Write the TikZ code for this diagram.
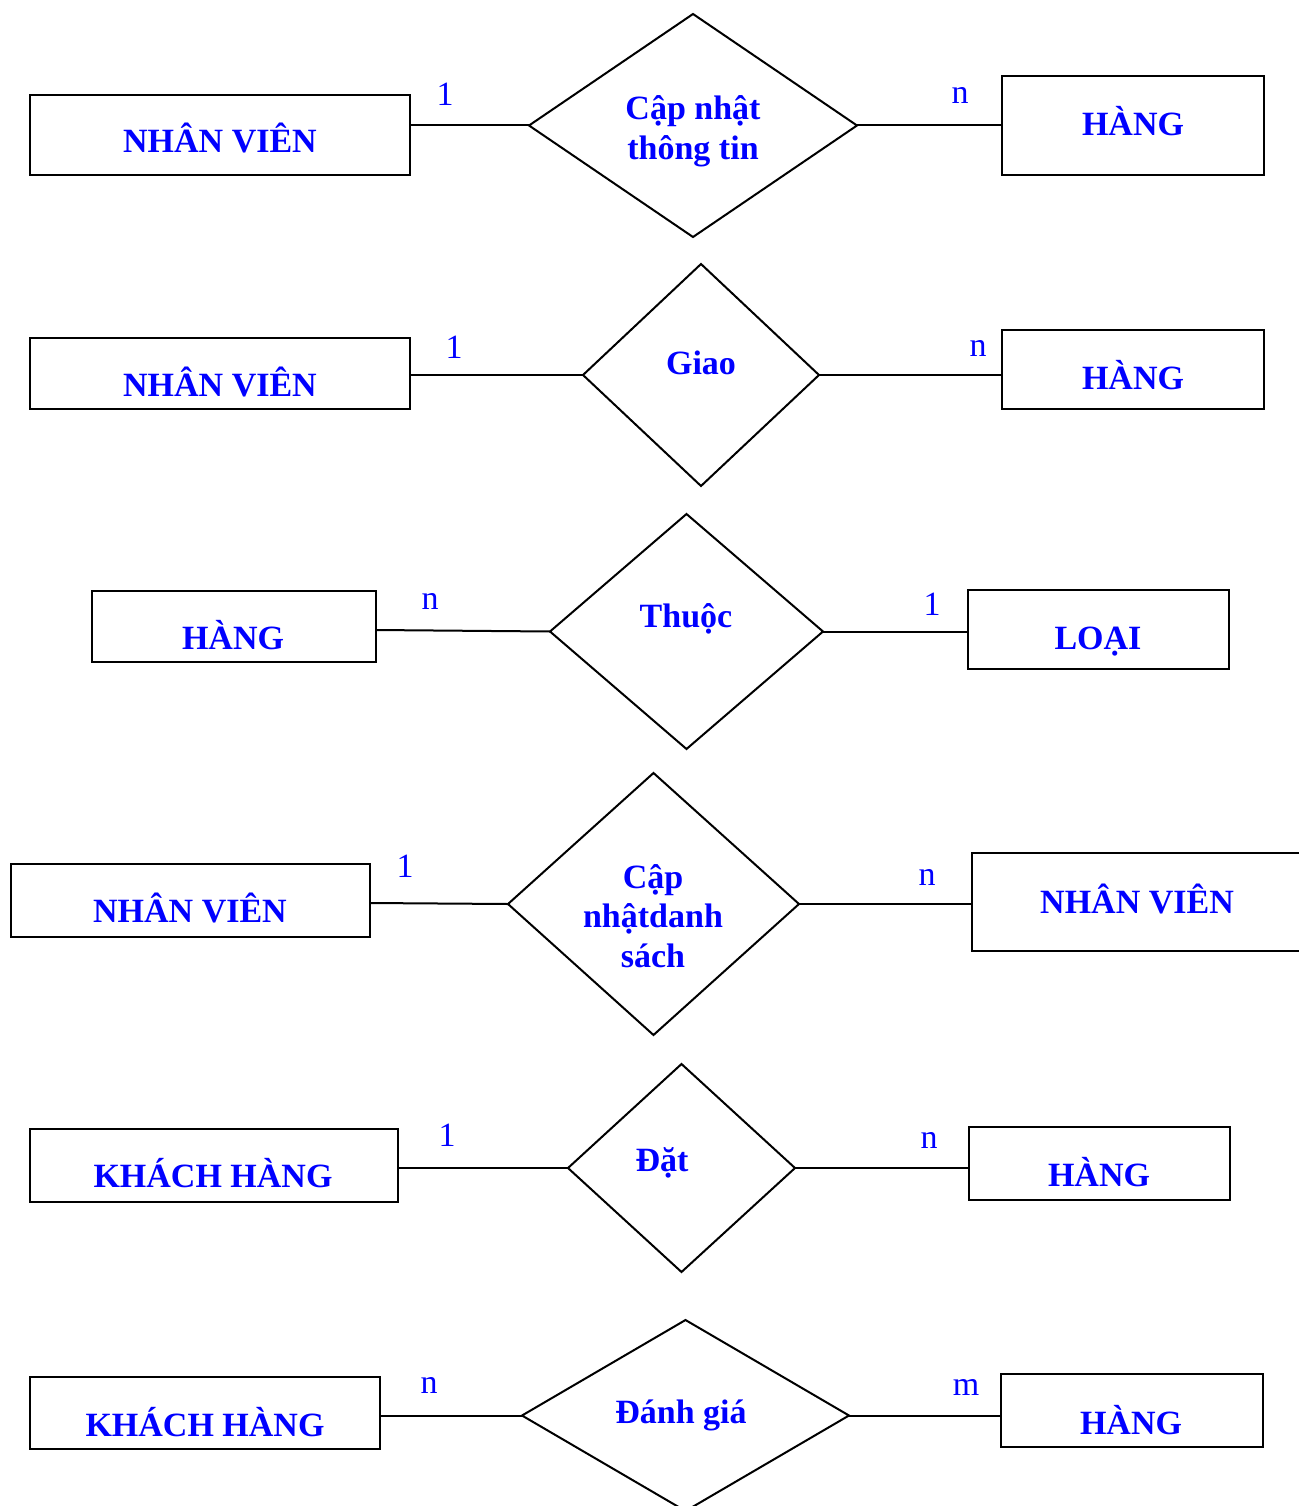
\documentclass[tikz,border=0pt]{standalone}
\usepackage{fontspec}
\setmainfont{Liberation Serif}
\usetikzlibrary{shapes.geometric}
\definecolor{erblue}{RGB}{0,0,255}
\begin{document}
\begin{tikzpicture}[x=1pt,y=-1pt,
  entity/.style={draw=black,line width=2pt,rectangle,inner sep=0pt,outer sep=0pt},
  rel/.style={draw=black,line width=2pt,diamond,aspect=1,inner sep=0pt,outer sep=0pt},
  lbl/.style={text=erblue,font=\fontsize{34}{38}\selectfont\bfseries,anchor=base,inner sep=0pt},
  card/.style={text=erblue,font=\fontsize{34}{38}\selectfont,anchor=base,inner sep=0pt},
  conn/.style={draw=black,line width=2pt}]
\useasboundingbox (0,0) rectangle (1298,1506);

% ---------- Row 1 ----------
\node[entity,minimum width=380pt,minimum height=80pt] (e1a) at (220,135) {};
\node[entity,minimum width=262pt,minimum height=99pt] (e1b) at (1133,125.5) {};
\node[rel,minimum width=328pt,minimum height=223pt] (r1) at (693,125.5) {};
\node[lbl] (t1a) at (220,153) {NHÂN VIÊN};
\node[lbl] (t1b) at (1133,136) {HÀNG};
\node[lbl] (t1r1) at (693,120) {Cập nhật};
\node[lbl] (t1r2) at (693,160) {thông tin};
\draw[conn] (e1a.east |- r1.west) -- (r1.west);
\draw[conn] (r1.east) -- (r1.east -| e1b.west);
\node[card] (c1a) at (445,106) {1};
\node[card] (c1b) at (960,104) {n};

% ---------- Row 2 ----------
\node[entity,minimum width=380pt,minimum height=71pt] (e2a) at (220,373.5) {};
\node[entity,minimum width=262pt,minimum height=79pt] (e2b) at (1133,369.5) {};
\node[rel,minimum width=236pt,minimum height=222pt] (r2) at (701,375) {};
\node[lbl] (t2a) at (220,396) {NHÂN VIÊN};
\node[lbl] (t2b) at (1133,389) {HÀNG};
\node[lbl] (t2r) at (701,374) {Giao};
\draw[conn] (e2a.east |- r2.west) -- (r2.west);
\draw[conn] (r2.east) -- (r2.east -| e2b.west);
\node[card] (c2a) at (454,358) {1};
\node[card] (c2b) at (978,356) {n};

% ---------- Row 3 ----------
\node[entity,minimum width=284pt,minimum height=71pt] (e3a) at (234,626.5) {};
\node[entity,minimum width=261pt,minimum height=79pt] (e3b) at (1098.5,629.5) {};
\node[rel,minimum width=273pt,minimum height=235pt] (r3) at (686.5,631.5) {};
\node[lbl] (t3a) at (233,649) {HÀNG};
\node[lbl] (t3b) at (1098,649) {LOẠI};
\node[lbl] (t3r) at (686,627) {Thuộc};
\draw[conn] (e3a.east |- 0,630) -- (r3.west);
\draw[conn] (r3.east) -- (r3.east -| e3b.west);
\node[card] (c3a) at (430,609) {n};
\node[card] (c3b) at (932,615) {1};

% ---------- Row 4 ----------
\node[entity,minimum width=359pt,minimum height=73pt] (e4a) at (190.5,900.5) {};
\node[entity,minimum width=333pt,minimum height=98pt] (e4b) at (1138.5,902) {};
\node[rel,minimum width=291pt,minimum height=262pt] (r4) at (653.5,904) {};
\node[lbl] (t4a) at (190,922) {NHÂN VIÊN};
\node[lbl] (t4b) at (1137,913) {NHÂN VIÊN};
\node[lbl] (t4r1) at (653,888) {Cập};
\node[lbl] (t4r2) at (653,927) {nhậtdanh};
\node[lbl] (t4r3) at (653,967) {sách};
\draw[conn] (e4a.east |- 0,903) -- (r4.west);
\draw[conn] (r4.east) -- (r4.east -| e4b.west);
\node[card] (c4a) at (405,877) {1};
\node[card] (c4b) at (927,885) {n};

% ---------- Row 5 ----------
\node[entity,minimum width=368pt,minimum height=73pt] (e5a) at (214,1165.5) {};
\node[entity,minimum width=261pt,minimum height=73pt] (e5b) at (1099.5,1163.5) {};
\node[rel,minimum width=227pt,minimum height=208pt] (r5) at (681.5,1168) {};
\node[lbl] (t5a) at (213,1187) {KHÁCH HÀNG};
\node[lbl] (t5b) at (1099,1186) {HÀNG};
\node[lbl] (t5r) at (662,1171) {Đặt};
\draw[conn] (e5a.east |- r5.west) -- (r5.west);
\draw[conn] (r5.east) -- (r5.east -| e5b.west);
\node[card] (c5a) at (447,1146) {1};
\node[card] (c5b) at (929,1148) {n};

% ---------- Row 6 ----------
\node[entity,minimum width=350pt,minimum height=72pt] (e6a) at (205,1413) {};
\node[entity,minimum width=262pt,minimum height=73pt] (e6b) at (1132,1410.5) {};
\node[rel,minimum width=327pt,minimum height=191pt] (r6) at (685.5,1415.5) {};
\node[lbl] (t6a) at (205,1436) {KHÁCH HÀNG};
\node[lbl] (t6b) at (1131,1434) {HÀNG};
\node[lbl] (t6r) at (681,1423) {Đánh giá};
\draw[conn] (e6a.east |- r6.west) -- (r6.west);
\draw[conn] (r6.east) -- (r6.east -| e6b.west);
\node[card] (c6a) at (429,1393) {n};
\node[card] (c6b) at (966,1395) {m};
\end{tikzpicture}
\end{document}
